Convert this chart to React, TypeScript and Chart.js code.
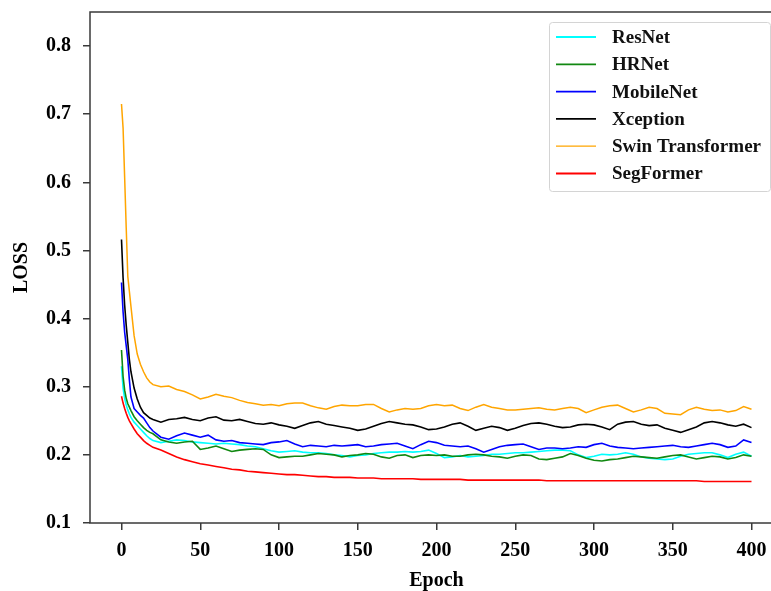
import React, { useEffect, useRef } from "react";
import { Chart, registerables } from "chart.js";

Chart.register(...registerables);

const epochs = [
  0, 1, 2, 3, 4, 5, 6, 8, 10, 12, 14, 16, 18, 20,
  25, 30, 35, 40, 45, 50, 55, 60, 65, 70,
  75, 80, 85, 90, 95, 100, 105, 110, 115, 120,
  125, 130, 135, 140, 145, 150, 155, 160, 165, 170,
  175, 180, 185, 190, 195, 200, 205, 210, 215, 220,
  225, 230, 235, 240, 245, 250, 255, 260, 265, 270,
  275, 280, 285, 290, 295, 300, 305, 310, 315, 320,
  325, 330, 335, 340, 345, 350, 355, 360, 365, 370,
  375, 380, 385, 390, 395, 400,
];

const resnet = [
  0.330, 0.298, 0.283, 0.273, 0.266, 0.260, 0.255, 0.248, 0.243, 0.238, 0.233, 0.228, 0.224, 0.221,
  0.218, 0.220, 0.222, 0.221, 0.219, 0.218, 0.217, 0.216, 0.217, 0.216,
  0.215, 0.213, 0.212, 0.209, 0.206, 0.204, 0.205, 0.206, 0.204, 0.203,
  0.203, 0.202, 0.200, 0.199, 0.197, 0.199, 0.200, 0.202, 0.203, 0.204,
  0.204, 0.205, 0.204, 0.205, 0.207, 0.202, 0.196, 0.197, 0.199, 0.197,
  0.198, 0.199, 0.201, 0.201, 0.202, 0.203, 0.203, 0.204, 0.205, 0.206,
  0.207, 0.207, 0.206, 0.200, 0.196, 0.198, 0.201, 0.200, 0.201, 0.203,
  0.201, 0.197, 0.195, 0.194, 0.193, 0.194, 0.198, 0.201, 0.202, 0.203,
  0.203, 0.200, 0.196, 0.201, 0.204, 0.198,
];

const hrnet = [
  0.354, 0.315, 0.295, 0.283, 0.275, 0.270, 0.265, 0.256, 0.250, 0.245, 0.240, 0.236, 0.233, 0.231,
  0.222, 0.219, 0.217, 0.219, 0.220, 0.208, 0.210, 0.213, 0.209, 0.205,
  0.207, 0.208, 0.209, 0.208, 0.200, 0.196, 0.197, 0.198, 0.198, 0.200,
  0.202, 0.201, 0.200, 0.197, 0.199, 0.200, 0.202, 0.201, 0.197, 0.195,
  0.199, 0.200, 0.196, 0.199, 0.200, 0.199, 0.200, 0.198, 0.198, 0.200,
  0.201, 0.200, 0.198, 0.197, 0.195, 0.198, 0.200, 0.199, 0.194, 0.193,
  0.195, 0.197, 0.202, 0.199, 0.195, 0.192, 0.191, 0.193, 0.194, 0.196,
  0.198, 0.197, 0.196, 0.195, 0.197, 0.199, 0.200, 0.197, 0.194, 0.196,
  0.198, 0.197, 0.194, 0.196, 0.200, 0.198,
];

const mobilenet = [
  0.453, 0.410, 0.380, 0.360, 0.340, 0.310, 0.285, 0.268, 0.263, 0.258, 0.254, 0.247, 0.240, 0.235,
  0.226, 0.223, 0.228, 0.232, 0.229, 0.226, 0.229, 0.222, 0.220, 0.221,
  0.218, 0.217, 0.216, 0.215, 0.218, 0.219, 0.221, 0.216, 0.212, 0.214,
  0.213, 0.212, 0.214, 0.213, 0.214, 0.215, 0.212, 0.213, 0.215, 0.216,
  0.217, 0.213, 0.209, 0.215, 0.220, 0.218, 0.214, 0.213, 0.212, 0.213,
  0.209, 0.204, 0.208, 0.212, 0.214, 0.215, 0.216, 0.212, 0.208, 0.210,
  0.210, 0.209, 0.210, 0.212, 0.211, 0.215, 0.217, 0.213, 0.211, 0.210,
  0.209, 0.210, 0.211, 0.212, 0.213, 0.214, 0.212, 0.211, 0.213, 0.215,
  0.217, 0.215, 0.211, 0.213, 0.222, 0.218,
];

const xception = [
  0.516, 0.460, 0.420, 0.390, 0.365, 0.340, 0.322, 0.298, 0.282, 0.270, 0.262, 0.258, 0.254, 0.252,
  0.248, 0.252, 0.253, 0.255, 0.252, 0.250, 0.254, 0.256, 0.251, 0.250,
  0.252, 0.249, 0.246, 0.245, 0.247, 0.244, 0.242, 0.239, 0.243, 0.247,
  0.249, 0.245, 0.243, 0.241, 0.239, 0.236, 0.238, 0.242, 0.246, 0.249,
  0.247, 0.245, 0.244, 0.241, 0.237, 0.238, 0.241, 0.245, 0.247, 0.242,
  0.236, 0.239, 0.242, 0.240, 0.236, 0.239, 0.243, 0.246, 0.247, 0.245,
  0.242, 0.240, 0.241, 0.244, 0.245, 0.244, 0.241, 0.237, 0.245, 0.248,
  0.249, 0.245, 0.243, 0.244, 0.239, 0.236, 0.233, 0.237, 0.241, 0.247,
  0.249, 0.247, 0.244, 0.242, 0.245, 0.240,
];

const swin = [
  0.715, 0.680, 0.607, 0.533, 0.462, 0.440, 0.418, 0.375, 0.348, 0.333, 0.322, 0.313, 0.307, 0.303,
  0.300, 0.301, 0.296, 0.293, 0.288, 0.282, 0.285, 0.289, 0.286, 0.284,
  0.280, 0.277, 0.275, 0.273, 0.274, 0.272, 0.275, 0.276, 0.276, 0.272,
  0.269, 0.267, 0.271, 0.273, 0.272, 0.272, 0.274, 0.274, 0.268, 0.263,
  0.266, 0.268, 0.267, 0.268, 0.272, 0.274, 0.272, 0.273, 0.268, 0.265,
  0.270, 0.274, 0.270, 0.268, 0.266, 0.266, 0.267, 0.268, 0.269, 0.267,
  0.266, 0.268, 0.270, 0.268, 0.262, 0.266, 0.270, 0.272, 0.273, 0.268,
  0.263, 0.266, 0.270, 0.268, 0.261, 0.260, 0.259, 0.266, 0.270, 0.267,
  0.265, 0.266, 0.263, 0.265, 0.271, 0.267,
];

const segformer = [
  0.286, 0.276, 0.268, 0.261, 0.255, 0.250, 0.246, 0.238, 0.231, 0.226, 0.221, 0.217, 0.214, 0.211,
  0.207, 0.202, 0.197, 0.193, 0.190, 0.187, 0.185, 0.183, 0.181, 0.179,
  0.178, 0.176, 0.175, 0.174, 0.173, 0.172, 0.171, 0.171, 0.170, 0.169,
  0.168, 0.168, 0.167, 0.167, 0.167, 0.166, 0.166, 0.166, 0.165, 0.165,
  0.165, 0.165, 0.165, 0.164, 0.164, 0.164, 0.164, 0.164, 0.164, 0.163,
  0.163, 0.163, 0.163, 0.163, 0.163, 0.163, 0.163, 0.163, 0.163, 0.162,
  0.162, 0.162, 0.162, 0.162, 0.162, 0.162, 0.162, 0.162, 0.162, 0.162,
  0.162, 0.162, 0.162, 0.162, 0.162, 0.162, 0.162, 0.162, 0.162, 0.161,
  0.161, 0.161, 0.161, 0.161, 0.161, 0.161,
];

const seriesNames = ["ResNet", "HRNet", "MobileNet", "Xception", "Swin Transformer", "SegFormer"];
const seriesColors = ["#00FFFF", "#118811", "#0000FF", "#000000", "#FFA500", "#FF0000"];
const seriesValues = [resnet, hrnet, mobilenet, xception, swin, segformer];

const xTicks = [0, 50, 100, 150, 200, 250, 300, 350, 400];
const yTicks = [0.1, 0.2, 0.3, 0.4, 0.5, 0.6, 0.7, 0.8];

const FONT = "'Liberation Serif', 'Times New Roman', serif";

export default function App() {
  const ref = useRef<HTMLCanvasElement>(null);

  useEffect(() => {
    document.body.style.margin = "0";
    const canvas = ref.current;
    if (!canvas) return;

    const framePlugin = {
      id: "frame",
      afterDatasetsDraw(chart: any) {
        const { ctx, chartArea } = chart;
        ctx.save();
        ctx.strokeStyle = "#3a3a3a";
        ctx.lineWidth = 1.5;
        ctx.strokeRect(chartArea.left, chartArea.top, chartArea.right - chartArea.left, chartArea.bottom - chartArea.top);
        ctx.restore();
      },
    };

    const legendPlugin = {
      id: "boxLegend",
      afterDraw(chart: any) {
        const { ctx } = chart;
        const bx = 549, by = 22, bw = 221, bh = 169;
        ctx.save();
        ctx.fillStyle = "#ffffff";
        ctx.strokeStyle = "#d4d4d4";
        ctx.lineWidth = 1;
        ctx.beginPath();
        if ((ctx as any).roundRect) (ctx as any).roundRect(bx + 0.5, by + 0.5, bw, bh, 3);
        else ctx.rect(bx + 0.5, by + 0.5, bw, bh);
        ctx.fill();
        ctx.stroke();
        ctx.font = `bold 19px ${FONT}`;
        ctx.textBaseline = "middle";
        ctx.textAlign = "left";
        seriesNames.forEach((name, i) => {
          const y = 37 + i * 27.3;
          ctx.strokeStyle = seriesColors[i];
          ctx.lineWidth = i === 4 ? 1.2 : 1.8;
          ctx.beginPath();
          ctx.moveTo(556, y);
          ctx.lineTo(596, y);
          ctx.stroke();
          ctx.fillStyle = "#111111";
          ctx.fillText(name, 612, y + 1);
        });
        ctx.restore();
      },
    };

    const datasets = seriesNames.map((name, i) => ({
      label: name,
      data: epochs.map((e, j) => ({ x: e, y: seriesValues[i][j] })),
      borderColor: seriesColors[i],
      backgroundColor: seriesColors[i],
      borderWidth: i === 4 ? 1.5 : 1.6,
      pointRadius: 0,
      tension: 0,
      fill: false,
      order: seriesNames.length - i,
    }));

    const tickFont = { family: FONT, size: 20, weight: "bold" as const };

    const chart = new Chart(canvas, {
      type: "line",
      data: { datasets },
      plugins: [framePlugin, legendPlugin],
      options: {
        animation: false,
        responsive: false,
        devicePixelRatio: 1,
        layout: { padding: { top: 12, right: 2, left: 0, bottom: 0 } },
        plugins: { legend: { display: false }, tooltip: { enabled: false } },
        scales: {
          x: {
            type: "linear",
            min: -20,
            max: 420,
            afterBuildTicks: (s: any) => {
              s.ticks = xTicks.map((v) => ({ value: v }));
            },
            afterFit: (s: any) => {
              s.height = 68;
              s.paddingLeft = 0;
              s.paddingRight = 0;
            },
            border: { display: false },
            grid: { drawOnChartArea: false, drawTicks: true, tickLength: 7, color: "#3a3a3a", lineWidth: 1.5 },
            ticks: { font: tickFont, color: "#000", padding: 9, maxRotation: 0, autoSkip: false, callback: (v: any) => String(v) },
            title: { display: true, text: "Epoch", font: { family: FONT, size: 20, weight: "bold" }, color: "#000", padding: { top: 0, bottom: -2 } },
          },
          y: {
            type: "linear",
            min: 0.1,
            max: 0.85,
            afterBuildTicks: (s: any) => {
              s.ticks = yTicks.map((v) => ({ value: v }));
            },
            afterFit: (s: any) => {
              s.width = 90;
              s.paddingTop = 0;
              s.paddingBottom = 0;
            },
            border: { display: false },
            grid: { drawOnChartArea: false, drawTicks: true, tickLength: 7, color: "#3a3a3a", lineWidth: 1.5 },
            ticks: { font: tickFont, color: "#000", padding: 12, autoSkip: false, callback: (v: any) => Number(v).toFixed(1) },
            title: { display: true, text: "LOSS", font: { family: FONT, size: 20, weight: "bold" }, color: "#000", padding: { top: 10, bottom: 0 } },
          },
        },
      },
    } as any);

    return () => chart.destroy();
  }, []);

  return (
    <div style={{ position: "fixed", left: 0, top: 0, width: 771, height: 591, overflow: "hidden", background: "#fff" }}>
      <canvas ref={ref} width={785} height={591} style={{ display: "block" }} />
    </div>
  );
}
